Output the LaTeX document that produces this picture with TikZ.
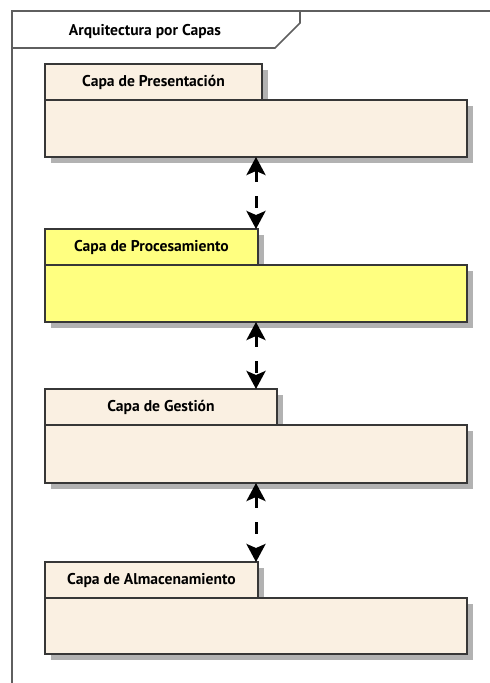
\documentclass[tikz,border=0pt]{standalone}
\usepackage{fontspec}
\setmainfont{PT Sans}
\usetikzlibrary{arrows.meta,shadows}
\definecolor{layerbeige}{RGB}{250,240,226}
\definecolor{layeryellow}{RGB}{255,255,128}
\definecolor{edgegray}{RGB}{55,55,55}
\definecolor{shadegray}{RGB}{178,178,178}
\definecolor{framegray}{RGB}{95,95,95}
\begin{document}
\begin{tikzpicture}[x=1pt,y=-1pt,
  frameline/.style={draw=framegray, line width=1.6pt},
  labelfont/.style={font=\bfseries\fontsize{15.6}{18}\selectfont},
  layer/.style={draw=edgegray, line width=1.3pt, fill=layerbeige,
    drop shadow={shadow xshift=6pt, shadow yshift=-6pt, fill=shadegray, opacity=1},
    inner sep=0pt, outer sep=0pt, anchor=north west},
  tab/.style={layer, labelfont, minimum height=36pt},
  body/.style={layer, minimum width=422pt, minimum height=57pt},
  dep/.style={line width=3pt, black, dash pattern=on 12pt off 14pt,
    {Stealth[length=18pt, width=19pt, inset=4pt]}-{Stealth[length=18pt, width=19pt, inset=4pt]}}]
\useasboundingbox (0,0) rectangle (490,683);
\fill[white] (0,0) rectangle (490,683);

% package frame with its name tab
\draw[frameline] (12,690) -- (12,11) -- (495,11);
\draw[frameline] (12,48) -- (275,48) -- (300,23) -- (300,11);
\node[labelfont] (title) at (145,31) {Arquitectura por Capas};

% presentation layer
\node[tab, minimum width=217pt] (t1) at (45,64) {Capa de Presentación};
\node[body] (b1) at (45,100) {};

% processing layer
\node[tab, minimum width=213pt, fill=layeryellow] (t2) at (45,229) {Capa de Procesamiento};
\node[body, fill=layeryellow] (b2) at (45,265) {};

% management layer
\node[tab, minimum width=232pt] (t3) at (45,389) {Capa de Gestión};
\node[body, minimum height=58pt] (b3) at (45,425) {};

% storage layer
\node[tab, minimum width=213pt] (t4) at (45,562) {Capa de Almacenamiento};
\node[body, minimum height=56pt] (b4) at (45,598) {};

% dependencies between layers
\draw[dep] ([xshift=211pt]b1.south west) -- ([xshift=211pt]t2.north west);
\draw[dep] ([xshift=211pt]b2.south west) -- ([xshift=211pt]t3.north west);
\draw[dep] ([xshift=211pt]b3.south west) -- ([xshift=211pt]t4.north west);
\end{tikzpicture}
\end{document}
